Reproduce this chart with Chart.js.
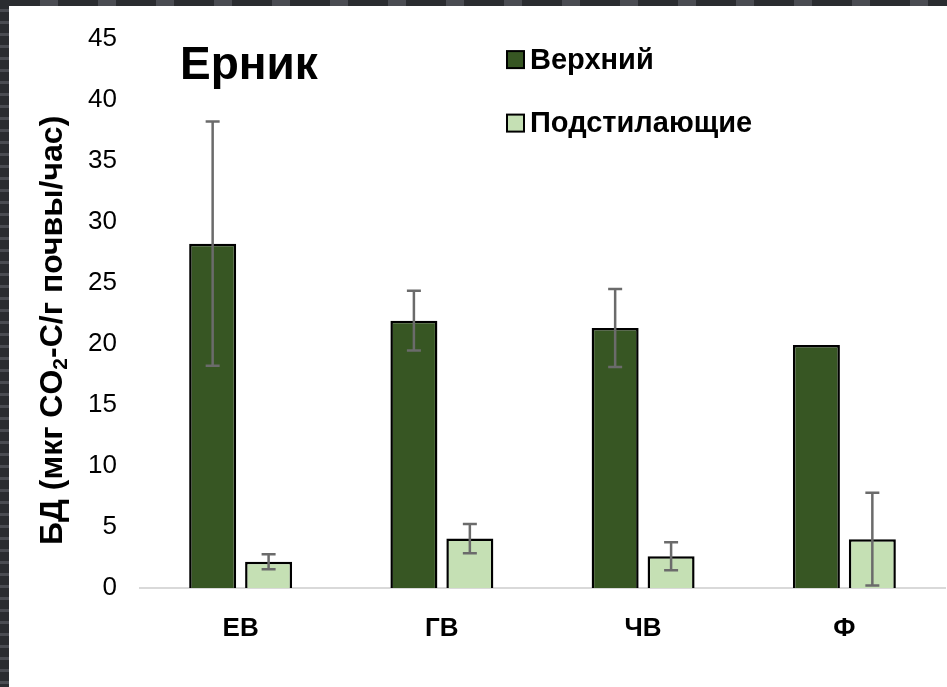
<!DOCTYPE html>
<html>
<head>
<meta charset="utf-8">
<script src="https://cdn.jsdelivr.net/npm/chart.js@4/dist/chart.umd.min.js"></script>
<style>
  html, body { margin: 0; padding: 0; background: #fff; }
  #wrap { position: relative; width: 947px; height: 687px; overflow: hidden; }
  canvas { position: absolute; left: 0; top: 0; }
  .frame { position: absolute; background-color: #2e3035; pointer-events: none; }
  .frame.left { left: 0; top: 0; width: 9px; height: 687px;
    background-image: repeating-linear-gradient(180deg, #2a2c30 0 9px, #4a4c52 9px 12px); }
  .frame.top { left: 0; top: 0; width: 947px; height: 6px;
    background-image: repeating-linear-gradient(90deg, #2a2c30 0 40px, #4a4c52 40px 58px); }
</style>
</head>
<body>
<div id="wrap">
  <canvas id="chart" width="947" height="687"></canvas>
  <div class="frame left"></div>
  <div class="frame top"></div>
</div>
<script>
const categories = ['ЕВ', 'ГВ', 'ЧВ', 'Ф'];
const upperValues = [28.2, 21.9, 21.3, 19.9];
const upperErrors = [10.0, 2.45, 3.2, 0];
const underValues = [2.15, 4.05, 2.6, 4.0];
const underErrors = [0.62, 1.2, 1.15, 3.8];
const yTicks = [0, 5, 10, 15, 20, 25, 30, 35, 40, 45];

const FONT = '"Liberation Sans", Arial, sans-serif';

// whiskers on top of each bar
const errorBars = {
    id: 'errorBars',
    afterDatasetsDraw(chart) {
        const ctx = chart.ctx;
        const y = chart.scales.y;
        ctx.save();
        ctx.strokeStyle = '#6b6b6b';
        ctx.lineWidth = 2.5;
        chart.data.datasets.forEach((ds, i) => {
            const meta = chart.getDatasetMeta(i);
            meta.data.forEach((bar, j) => {
                const e = ds.errors[j];
                if (!e) return;
                const v = ds.data[j];
                const top = y.getPixelForValue(v + e);
                const bot = y.getPixelForValue(v - e);
                ctx.beginPath();
                ctx.moveTo(bar.x, top);
                ctx.lineTo(bar.x, bot);
                ctx.moveTo(bar.x - 7, top);
                ctx.lineTo(bar.x + 7, top);
                ctx.moveTo(bar.x - 7, bot);
                ctx.lineTo(bar.x + 7, bot);
                ctx.stroke();
            });
        });
        ctx.restore();
    }
};

// title, legend and the rotated y title with subscript
const labels = {
    id: 'labels',
    afterDraw(chart) {
        const ctx = chart.ctx;
        const a = chart.chartArea;
        ctx.save();
        ctx.fillStyle = '#000';

        ctx.font = 'bold 46px ' + FONT;
        ctx.textBaseline = 'alphabetic';
        ctx.textAlign = 'left';
        ctx.fillText('Ерник', a.left + 40, a.top + 40);

        ctx.font = 'bold 29px ' + FONT;
        ctx.textBaseline = 'middle';
        chart.data.datasets.forEach((ds, i) => {
            const cy = a.top + 21 + i * 63.5;
            const bx = a.left + 367;
            ctx.fillStyle = ds.backgroundColor;
            ctx.fillRect(bx, cy - 8.5, 17, 17);
            ctx.strokeStyle = '#000';
            ctx.lineWidth = 2;
            ctx.strokeRect(bx, cy - 8.5, 17, 17);
            ctx.fillStyle = '#000';
            ctx.fillText(ds.label, bx + 23, cy + 1);
        });

        // y axis title
        const parts = [
            { t: 'БД (мкг CO', f: 'bold 32px ' + FONT, dy: 0 },
            { t: '2', f: 'bold 21px ' + FONT, dy: 5 },
            { t: '-C/г почвы/час)', f: 'bold 32px ' + FONT, dy: 0 }
        ];
        let total = 0;
        parts.forEach(p => { ctx.font = p.f; p.w = ctx.measureText(p.t).width; total += p.w; });
        ctx.translate(a.left - 78, (a.top + a.bottom) / 2 + 17);
        ctx.rotate(-Math.PI / 2);
        ctx.textBaseline = 'alphabetic';
        let x = -total / 2;
        parts.forEach(p => {
            ctx.font = p.f;
            ctx.fillText(p.t, x, p.dy);
            x += p.w;
        });
        ctx.restore();
    }
};

new Chart(document.getElementById('chart'), {
    type: 'bar',
    data: {
        labels: categories,
        datasets: [
            {
                label: 'Верхний',
                data: upperValues,
                errors: upperErrors,
                backgroundColor: '#375623',
                borderColor: '#000',
                borderWidth: 2.5
            },
            {
                label: 'Подстилающие',
                data: underValues,
                errors: underErrors,
                backgroundColor: '#c5e0b4',
                borderColor: '#000',
                borderWidth: 2.5
            }
        ]
    },
    options: {
        responsive: false,
        animation: false,
        categoryPercentage: 0.556,
        barPercentage: 0.84,
        layout: { padding: { top: 37, right: 2, bottom: 0, left: 0 } },
        plugins: {
            legend: { display: false },
            tooltip: { enabled: false }
        },
        scales: {
            x: {
                grid: { display: false, drawTicks: false },
                border: { display: true, color: '#d9d9d9', width: 2 },
                ticks: {
                    color: '#000',
                    padding: 25,
                    font: { family: FONT, size: 26, weight: 'bold' }
                },
                afterFit(s) { s.height = 99; }
            },
            y: {
                min: 0,
                max: 45,
                grid: { display: false, drawTicks: false },
                border: { display: false },
                afterBuildTicks(s) { s.ticks = yTicks.map(v => ({ value: v })); },
                ticks: {
                    color: '#000',
                    padding: 23,
                    font: { family: FONT, size: 26 }
                },
                afterFit(s) { s.width = 140; }
            }
        }
    },
    plugins: [errorBars, labels]
});
</script>
</body>
</html>
